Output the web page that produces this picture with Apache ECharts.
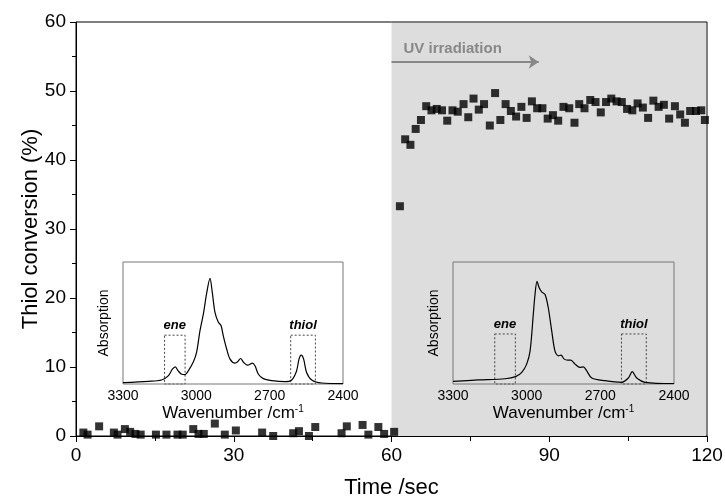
<!DOCTYPE html>
<html>
<head>
<meta charset="utf-8">
<script src="https://cdn.jsdelivr.net/npm/echarts@6/dist/echarts.min.js"></script>
<style>
html, body { margin: 0; padding: 0; background: #fff; }
#main { width: 725px; height: 502px; }
</style>
</head>
<body>
<div id="main"></div>
<script>
// thiol conversion vs time (dark phase, then UV on at 60 s)
var timeDark = [1.4, 2.2, 4.4, 7.2, 7.9, 9.3, 10.3, 11.3, 12.3, 15.2, 17.2, 19.3, 20.3, 22.3, 23.3, 24.3, 26.4, 28.3, 30.4, 35.4, 37.5, 41.3, 42.4, 44.3, 45.5, 50.5, 51.5, 54.5, 55.6, 57.5, 58.6, 60.5];
var convDark = [0.5, 0.2, 1.4, 0.5, 0.2, 1.0, 0.6, 0.3, 0.2, 0.2, 0.2, 0.2, 0.2, 1.0, 0.3, 0.3, 1.8, 0.2, 0.8, 0.5, 0.0, 0.4, 0.7, 0.0, 1.3, 0.4, 1.4, 1.6, 0.2, 1.3, 0.3, 0.6];
var timeUV = [61.6, 62.6, 63.6, 64.6, 65.6, 66.6, 67.6, 68.6, 69.6, 70.6, 71.6, 72.6, 73.7, 74.6, 75.6, 76.6, 77.6, 78.7, 79.7, 80.7, 81.7, 82.7, 83.7, 84.7, 85.7, 86.7, 87.7, 88.7, 89.7, 90.7, 91.7, 92.7, 93.8, 94.8, 95.7, 96.7, 97.8, 98.8, 99.8, 100.8, 101.8, 102.8, 103.8, 104.8, 105.8, 106.8, 107.8, 108.8, 109.8, 110.8, 111.8, 112.8, 113.9, 114.9, 115.8, 116.8, 117.9, 118.9, 119.6];
var convUV = [33.3, 43.0, 42.2, 44.5, 45.8, 47.8, 47.2, 47.4, 47.2, 45.7, 47.2, 47.0, 48.1, 46.2, 48.9, 47.3, 48.1, 45.0, 49.7, 45.8, 48.1, 47.1, 46.3, 47.7, 46.1, 48.5, 47.5, 47.5, 46.0, 46.5, 45.7, 47.7, 47.5, 45.4, 48.1, 47.5, 48.7, 48.4, 46.9, 48.4, 48.9, 48.5, 48.4, 47.4, 47.2, 48.2, 47.6, 46.1, 48.6, 47.7, 48.0, 46.0, 47.8, 46.6, 45.4, 47.1, 47.1, 47.2, 45.8];

// IR spectra (insets), relative absorption
var wnBefore = [3300, 3196, 3142, 3115, 3098, 3086, 3074, 3060, 3046, 3033, 3012, 2999, 2985, 2971, 2958, 2944, 2935, 2924, 2910, 2899, 2890, 2876, 2862, 2842, 2831, 2819, 2806, 2790, 2771, 2760, 2746, 2726, 2692, 2637, 2610, 2590, 2580, 2571, 2561, 2549, 2528, 2487, 2400];
var absBefore = [0.011, 0.022, 0.033, 0.066, 0.121, 0.140, 0.107, 0.080, 0.077, 0.107, 0.182, 0.259, 0.438, 0.576, 0.741, 0.865, 0.755, 0.590, 0.507, 0.479, 0.397, 0.287, 0.204, 0.171, 0.182, 0.209, 0.176, 0.154, 0.171, 0.149, 0.080, 0.044, 0.028, 0.019, 0.033, 0.107, 0.204, 0.237, 0.204, 0.094, 0.033, 0.008, 0.003];
var wnAfter = [3300, 3197, 3088, 3045, 3020, 3000, 2986, 2973, 2966, 2958, 2949, 2939, 2925, 2912, 2898, 2885, 2871, 2860, 2847, 2833, 2820, 2803, 2783, 2769, 2756, 2735, 2681, 2613, 2586, 2570, 2552, 2518, 2400];
var absAfter = [0.022, 0.033, 0.043, 0.060, 0.095, 0.163, 0.272, 0.571, 0.734, 0.842, 0.788, 0.755, 0.734, 0.625, 0.435, 0.272, 0.231, 0.236, 0.204, 0.196, 0.196, 0.163, 0.136, 0.141, 0.109, 0.049, 0.027, 0.014, 0.049, 0.101, 0.049, 0.014, 0.004];

var eneBand = [3130, 3046];
var thiolBand = [2614, 2513];

function pairs(xs, ys) {
	var out = [];
	for (var i = 0; i < xs.length; i++) {
		out.push([xs[i], ys[i]]);
	}
	return out;
}

var font = "Arial, 'Liberation Sans', sans-serif";
var chart = echarts.init(document.getElementById('main'), null, { renderer: 'canvas' });

function insetX(gi) {
	return {
		type: 'value', gridIndex: gi, inverse: true, min: 2400, max: 3300, interval: 300, z: 10,
		name: 'Wavenumber /cm{sup|-1}', nameLocation: 'middle', nameGap: 20, nameMoveOverlap: false,
		nameTextStyle: {
			color: '#000', fontFamily: font, fontSize: 17,
			rich: { sup: { fontSize: 10, verticalAlign: 'top', padding: [0, 0, 9, 0], fontFamily: font, color: '#000' } }
		},
		axisLine: { show: false }, axisTick: { show: false }, splitLine: { show: false },
		axisLabel: { color: '#000', fontFamily: font, fontSize: 14, margin: 5, formatter: function (v) { return String(v); } }
	};
}
function insetY(gi) {
	return {
		type: 'value', gridIndex: gi, min: 0, max: 1, z: 10,
		name: 'Absorption', nameLocation: 'middle', nameGap: 12, nameMoveOverlap: false,
		nameTextStyle: { color: '#000', fontFamily: font, fontSize: 14 },
		axisLine: { show: false }, axisTick: { show: false }, splitLine: { show: false },
		axisLabel: { show: false }
	};
}
function bandBoxes(top) {
	var lbl = { show: true, position: 'top', distance: 3, color: '#000', fontFamily: font, fontSize: 13, fontWeight: 'bold', fontStyle: 'italic' };
	return {
		silent: true,
		itemStyle: { color: 'rgba(0,0,0,0)', borderColor: '#444', borderWidth: 1, borderType: [2, 2] },
		data: [
			[{ xAxis: eneBand[0], yAxis: top, label: Object.assign({ formatter: 'ene' }, lbl) }, { xAxis: eneBand[1], yAxis: -0.02 }],
			[{ xAxis: thiolBand[0], yAxis: top, label: Object.assign({ formatter: 'thiol' }, lbl) }, { xAxis: thiolBand[1], yAxis: -0.02 }]
		]
	};
}

var option = {
	animation: false,
	backgroundColor: '#fff',
	grid: [
		// main plot: border gives the top / right frame
		{ left: 76, right: 18, top: 22, bottom: 66, outerBoundsMode: 'none', containLabel: false,
			show: true, borderColor: '#000', borderWidth: 1, backgroundColor: 'rgba(0,0,0,0)' },
		{ left: 123, width: 220, top: 262, height: 122, outerBoundsMode: 'none', show: true, borderColor: '#777', borderWidth: 1, z: 5 },
		{ left: 453, width: 221, top: 262, height: 122, outerBoundsMode: 'none', show: true, borderColor: '#777', borderWidth: 1, z: 5 }
	],
	xAxis: [
		{
			type: 'value', gridIndex: 0, min: 0, max: 120, interval: 30, z: 9,
			name: 'Time /sec', nameLocation: 'middle', nameGap: 41, nameMoveOverlap: false,
			nameTextStyle: { color: '#000', fontFamily: font, fontSize: 22 },
			axisLine: { onZero: false, lineStyle: { color: '#000' } },
			axisTick: { inside: false, length: 6, lineStyle: { color: '#000' } },
			minorTick: { show: true, splitNumber: 2, length: 5, lineStyle: { color: '#000' } },
			splitLine: { show: false },
			axisLabel: { color: '#000', fontFamily: font, fontSize: 19, margin: 10 }
		},
		insetX(1),
		insetX(2)
	],
	yAxis: [
		{
			type: 'value', gridIndex: 0, min: 0, max: 60, interval: 10, z: 9,
			name: 'Thiol conversion (%)', nameLocation: 'middle', nameGap: 34, nameMoveOverlap: false,
			nameTextStyle: { color: '#000', fontFamily: font, fontSize: 22 },
			axisLine: { show: true, onZero: false, lineStyle: { color: '#000' } },
			axisTick: { inside: false, length: 6, lineStyle: { color: '#000' } },
			minorTick: { show: true, splitNumber: 2, length: 4, lineStyle: { color: '#000' } },
			splitLine: { show: false },
			axisLabel: { color: '#000', fontFamily: font, fontSize: 19, margin: 10 }
		},
		insetY(1),
		insetY(2)
	],
	series: [
		{
			// UV-on shading (kept a hair inside the frame so the border shows) + arrow
			type: 'line', xAxisIndex: 0, yAxisIndex: 0, data: [], z: 1,
			markArea: {
				silent: true,
				itemStyle: { color: '#dddddd' },
				data: [[{ xAxis: 60, yAxis: 0 }, { xAxis: 119.8, yAxis: 59.85 }]]
			},
			markLine: {
				silent: true, symbol: ['none', 'arrow'], symbolSize: 10,
				lineStyle: { color: '#888', width: 2, type: 'solid' },
				label: {
					show: true, position: 'insideStartTop', formatter: 'UV irradiation',
					color: '#888', fontFamily: font, fontSize: 15, fontWeight: 'bold', distance: [12, 6]
				},
				data: [[{ coord: [60, 54.2] }, { coord: [88, 54.2] }]]
			}
		},
		{
			type: 'scatter', xAxisIndex: 0, yAxisIndex: 0, z: 3,
			symbol: 'rect', symbolSize: 8, itemStyle: { color: '#000' },
			data: pairs(timeDark, convDark).concat(pairs(timeUV, convUV))
		},
		{
			type: 'line', xAxisIndex: 1, yAxisIndex: 1, z: 6, smooth: 0.3, showSymbol: false,
			lineStyle: { color: '#000', width: 1.2 },
			data: pairs(wnBefore, absBefore),
			markArea: bandBoxes(0.40)
		},
		{
			type: 'line', xAxisIndex: 2, yAxisIndex: 2, z: 6, smooth: 0.3, showSymbol: false,
			lineStyle: { color: '#000', width: 1.2 },
			data: pairs(wnAfter, absAfter),
			markArea: bandBoxes(0.41)
		}
	]
};
chart.setOption(option);
</script>
</body>
</html>
